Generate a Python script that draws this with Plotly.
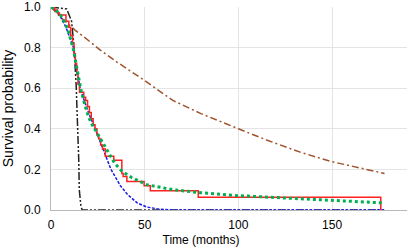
import plotly.graph_objects as go

# Kaplan-Meier (observed) steps
km_t = [0, 2, 3.5, 4.5, 8, 9.5, 10.5, 11.5, 12.3, 13, 13.7, 14.4, 15.2, 17.5, 18.5, 19.5, 20.5,
        21.5, 22.5, 23.5, 24.5, 25.5, 26.5, 27.5, 29, 33.5, 37.8, 38.5, 40.5, 49.7, 53, 78.6, 176, 176]
km_s = [1.0, 0.985, 0.97, 0.96, 0.93, 0.90, 0.86, 0.82, 0.77, 0.72, 0.67, 0.62, 0.58, 0.555, 0.54,
        0.51, 0.48, 0.45, 0.42, 0.40, 0.37, 0.35, 0.32, 0.30, 0.265, 0.245, 0.18, 0.165, 0.14, 0.12,
        0.095, 0.063, 0.063, 0.0]

# Fitted model curves
green_t = [0, 3, 6, 9, 12, 14, 16, 18, 20, 22, 25, 29, 34, 38, 43, 51, 65, 80, 97, 115, 149, 177]
green_s = [1.0, 0.98, 0.95, 0.89, 0.79, 0.68, 0.59, 0.52, 0.46, 0.42, 0.375, 0.31, 0.23, 0.19, 0.16,
           0.125, 0.10, 0.085, 0.072, 0.064, 0.05, 0.035]

blue_t = [0, 4, 8, 12, 15.5, 20, 24, 28, 32, 37, 41, 46, 51, 58, 65, 178]
blue_s = [1.0, 0.97, 0.90, 0.80, 0.60, 0.48, 0.39, 0.29, 0.20, 0.12, 0.075, 0.035, 0.015, 0.004, 0.0, 0.0]

black_t = [0, 8.4, 11, 12.3, 13.4, 14.3, 14.8, 15.1, 16, 16.7, 178]
black_s = [1.0, 0.99, 0.93, 0.80, 0.62, 0.43, 0.25, 0.10, 0.015, 0.0, 0.0]

brown_t = [0, 5, 10, 13, 20, 26, 35, 48, 65, 80, 100, 115, 133, 149, 178]
brown_s = [1.0, 0.95, 0.91, 0.885, 0.835, 0.79, 0.73, 0.65, 0.54, 0.475, 0.40, 0.345, 0.285, 0.24, 0.18]

x_ticks = [0, 50, 100, 150]
y_ticks = [0.0, 0.2, 0.4, 0.6, 0.8, 1.0]

fig = go.Figure()
fig.add_trace(go.Scatter(x=brown_t, y=brown_s, mode="lines", cliponaxis=False,
                         line=dict(color="#a0522d", width=1.5, dash="7px,3px,2px,3px")))
fig.add_trace(go.Scatter(x=black_t, y=black_s, mode="lines", cliponaxis=False,
                         line=dict(color="#222222", width=1.5, dash="8px,2px,2px,2px,2px,2px")))
fig.add_trace(go.Scatter(x=blue_t, y=blue_s, mode="lines", cliponaxis=False,
                         line=dict(color="#1a1ae6", width=1.5, dash="3px,1.5px")))
fig.add_trace(go.Scatter(x=km_t, y=km_s, mode="lines", line_shape="hv", cliponaxis=False,
                         line=dict(color="#ff2020", width=1.5)))
fig.add_trace(go.Scatter(x=green_t, y=green_s, mode="lines", cliponaxis=False,
                         line=dict(color="#00b050", width=3, dash="3px,3px")))

fig.update_layout(
    width=410, height=249,
    margin=dict(l=51, r=3, t=7, b=39, autoexpand=False),
    plot_bgcolor="white", paper_bgcolor="white",
    showlegend=False,
    font=dict(family="Liberation Sans, Arial, sans-serif", size=12, color="#000000"),
    title=dict(text="Time (months)", x=201 / 410, y=1 - 240 / 249, xref="container", yref="container",
               xanchor="center", yanchor="middle",
               font=dict(family="Liberation Sans, Arial, sans-serif", size=12, color="#000000")),
    xaxis=dict(range=[0, 190], tickvals=x_ticks, showgrid=True, gridcolor="#e4e4e4", gridwidth=1,
               zeroline=False, showline=True, linecolor="#b8b8b8", linewidth=1,
               ticks="", ticklabelstandoff=4, automargin=False),
    yaxis=dict(range=[0, 1], tickvals=y_ticks, tickformat=".1f", showgrid=True, gridcolor="#e4e4e4",
               gridwidth=1, zeroline=False, showline=True, linecolor="#b8b8b8", linewidth=1,
               ticks="", ticklabelstandoff=7, automargin=False,
               title=dict(text="Survival probability", standoff=10)),
)

fig.write_html("out.html", config={"displayModeBar": False},
               post_script="document.body.style.margin='0';document.body.style.padding='0';")
